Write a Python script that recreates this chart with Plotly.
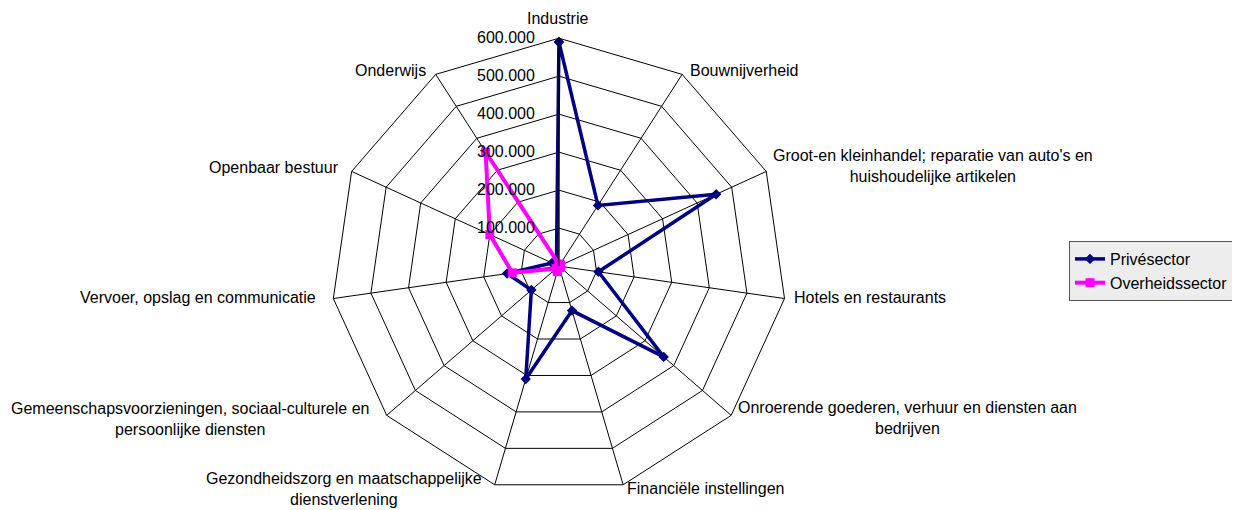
import plotly.graph_objects as go

categories = [
    "Industrie",
    "Bouwnijverheid",
    "Groot-en kleinhandel; reparatie van auto's en<br>huishoudelijke artikelen",
    "Hotels en restaurants",
    "Onroerende goederen, verhuur en diensten aan<br>bedrijven",
    "Financiële instellingen",
    "Gezondheidszorg en maatschappelijke<br>dienstverlening",
    "Gemeenschapsvoorzieningen, sociaal-culturele en<br>persoonlijke diensten",
    "Vervoer, opslag en communicatie",
    "Openbaar bestuur",
    "Onderwijs",
]
prive = [590000, 190000, 455000, 105000, 365000, 122000, 310000, 96000, 138000, 20000, 12000]
overheid = [5000, 5000, 5000, 4000, 5000, 4000, 15000, 10000, 124000, 200000, 357000]

tick_vals = [100000, 200000, 300000, 400000, 500000, 600000]
tick_text = ["100.000", "200.000", "300.000", "400.000", "500.000", "600.000"]

# Label placement (screen pixel positions of each category label, Excel-style)
W, H = 1240, 510
OFF = 8  # page body margin offset of the figure
label_pos = [
    (557, 18, "center"),
    (689, 70, "left"),
    (933, 166, "center"),
    (793, 297, "left"),
    (907, 418, "center"),
    (626, 488, "left"),
    (344, 489, "center"),
    (190, 419, "center"),
    (317, 297, "right"),
    (340, 167, "right"),
    (427, 70, "right"),
]

fig = go.Figure()
fig.add_trace(go.Scatterpolar(
    r=prive + [prive[0]], theta=categories + [categories[0]],
    mode="lines+markers", name="Privésector",
    line=dict(color="#000080", width=3.5),
    marker=dict(symbol="diamond", size=8, color="#000080"),
))
fig.add_trace(go.Scatterpolar(
    r=overheid + [overheid[0]], theta=categories + [categories[0]],
    mode="lines+markers", name="Overheidssector",
    line=dict(color="#FF00FF", width=4),
    marker=dict(symbol="square", size=9, color="#FF00FF"),
))

annotations = []
for cat, (px, py, anchor) in zip(categories, label_pos):
    annotations.append(dict(
        text=cat, x=(px - OFF) / W, y=1 - (py - OFF) / H,
        xref="paper", yref="paper",
        xanchor=anchor, yanchor="middle", align="center", showarrow=False,
        borderpad=0, font=dict(size=16, color="black"),
    ))

fig.update_layout(
    width=W, height=H,
    margin=dict(l=0, r=0, t=0, b=0),
    paper_bgcolor="white",
    font=dict(family="Liberation Sans, Arial, sans-serif", size=16, color="black"),
    annotations=annotations,
    polar=dict(
        domain=dict(x=[0.2605, 0.6281], y=[0.0467, 0.9411]),
        bgcolor="white",
        gridshape="linear",
        angularaxis=dict(
            direction="clockwise", rotation=90,
            linecolor="black", linewidth=1,
            gridcolor="black", gridwidth=1,
            showline=True, ticks="", showticklabels=False,
        ),
        radialaxis=dict(
            range=[0, 600000], angle=90, tickangle=90,
            tickvals=tick_vals, ticktext=tick_text,
            side="counterclockwise",
            showline=True, linecolor="black", linewidth=1,
            gridcolor="black", gridwidth=1,
            ticks="outside", ticklen=18, tickcolor="rgba(0,0,0,0)",
            tickfont=dict(size=16),
        ),
    ),
    legend=dict(
        x=(1069 - OFF) / W, y=1 - (241 - OFF) / H, xanchor="left", yanchor="top",
        bordercolor="#555555", borderwidth=1, bgcolor="#EDEDED",
        font=dict(size=16), tracegroupgap=0,
    ),
)

fig.write_html("out.html")
